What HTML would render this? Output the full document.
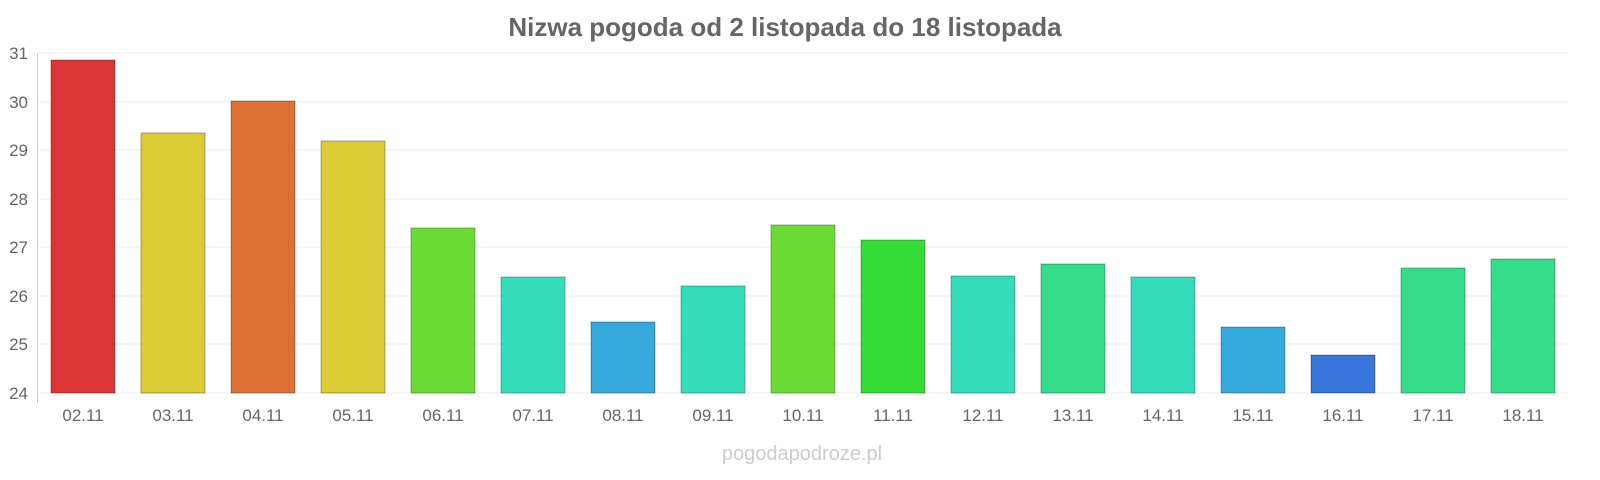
<!DOCTYPE html>
<html><head><style>
html,body{margin:0;padding:0;width:1600px;height:480px;overflow:hidden;background:#fff;font-family:"Liberation Sans",sans-serif;}
svg{display:block;}
</style></head><body>
<svg width="1600" height="480" viewBox="0 0 1600 480" xmlns="http://www.w3.org/2000/svg" font-family="Liberation Sans, sans-serif">
<text x="785" y="36" text-anchor="middle" font-size="26" font-weight="bold" fill="#666">Nizwa pogoda od 2 listopada do 18 listopada</text>
<g stroke="#eee" stroke-width="1">
<line x1="38" x2="1568" y1="53" y2="53"/><line x1="38" x2="1568" y1="102" y2="102"/>
<line x1="38" x2="1568" y1="150" y2="150"/><line x1="38" x2="1568" y1="199" y2="199"/>
<line x1="38" x2="1568" y1="247" y2="247"/><line x1="38" x2="1568" y1="296" y2="296"/>
<line x1="38" x2="1568" y1="344" y2="344"/><line x1="38" x2="1568" y1="393" y2="393"/>
</g>
<line x1="37.5" x2="37.5" y1="53" y2="403" stroke="#ccc"/>
<g font-size="17" fill="#666" text-anchor="end">
<text x="28" y="59">31</text><text x="28" y="108">30</text><text x="28" y="156">29</text>
<text x="28" y="205">28</text><text x="28" y="253">27</text><text x="28" y="302">26</text>
<text x="28" y="350">25</text><text x="28" y="399">24</text>
</g>
<g stroke-opacity="0.3" stroke="#000">
<rect x="51" y="60" width="64" height="333" fill="#dc3535"/>
<rect x="141" y="133" width="64" height="260" fill="#dccb35"/>
<rect x="231" y="101" width="64" height="292" fill="#dc7035"/>
<rect x="321" y="141" width="64" height="252" fill="#dccb35"/>
<rect x="411" y="228" width="64" height="165" fill="#6adc35"/>
<rect x="501" y="277" width="64" height="116" fill="#35dcb9"/>
<rect x="591" y="322" width="64" height="71" fill="#35a8dc"/>
<rect x="681" y="286" width="64" height="107" fill="#35dcb9"/>
<rect x="771" y="225" width="64" height="168" fill="#6adc35"/>
<rect x="861" y="240" width="64" height="153" fill="#35dc35"/>
<rect x="951" y="276" width="64" height="117" fill="#35dcb9"/>
<rect x="1041" y="264" width="64" height="129" fill="#35dc8a"/>
<rect x="1131" y="277" width="64" height="116" fill="#35dcb9"/>
<rect x="1221" y="327" width="64" height="66" fill="#35a8dc"/>
<rect x="1311" y="355" width="64" height="38" fill="#3575dc"/>
<rect x="1401" y="268" width="64" height="125" fill="#35dc8a"/>
<rect x="1491" y="259" width="64" height="134" fill="#35dc8a"/>
</g>
<g font-size="17" fill="#666" text-anchor="middle">
<text x="83" y="421">02.11</text><text x="173" y="421">03.11</text><text x="263" y="421">04.11</text>
<text x="353" y="421">05.11</text><text x="443" y="421">06.11</text><text x="533" y="421">07.11</text>
<text x="623" y="421">08.11</text><text x="713" y="421">09.11</text><text x="803" y="421">10.11</text>
<text x="893" y="421">11.11</text><text x="983" y="421">12.11</text><text x="1073" y="421">13.11</text>
<text x="1163" y="421">14.11</text><text x="1253" y="421">15.11</text><text x="1343" y="421">16.11</text>
<text x="1433" y="421">17.11</text><text x="1523" y="421">18.11</text>
</g>
<text x="802" y="460" text-anchor="middle" font-size="20" fill="#ccc">pogodapodroze.pl</text>
</svg>
</body></html>
